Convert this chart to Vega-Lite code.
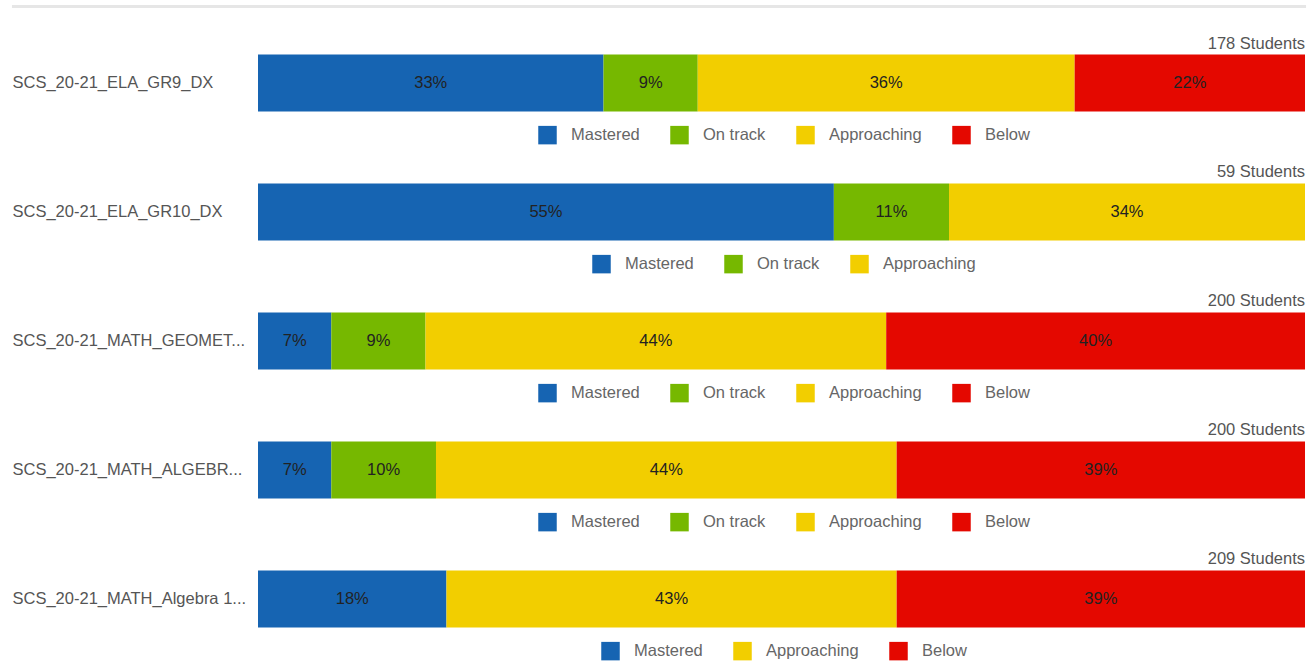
{
  "$schema": "https://vega.github.io/schema/vega-lite/v6.json",
  "padding": {"left": 10, "top": 4.5, "right": 2, "bottom": 0},
  "background": "white",
  "data": {"values": [
    {"test": "SCS_20-21_ELA_GR9_DX", "level": "Mastered", "o": 1, "pct": 0.33},
    {"test": "SCS_20-21_ELA_GR9_DX", "level": "On track", "o": 2, "pct": 0.09},
    {"test": "SCS_20-21_ELA_GR9_DX", "level": "Approaching", "o": 3, "pct": 0.36},
    {"test": "SCS_20-21_ELA_GR9_DX", "level": "Below", "o": 4, "pct": 0.22},
    {"test": "SCS_20-21_ELA_GR10_DX", "level": "Mastered", "o": 1, "pct": 0.55},
    {"test": "SCS_20-21_ELA_GR10_DX", "level": "On track", "o": 2, "pct": 0.11},
    {"test": "SCS_20-21_ELA_GR10_DX", "level": "Approaching", "o": 3, "pct": 0.34},
    {"test": "SCS_20-21_MATH_GEOMET...", "level": "Mastered", "o": 1, "pct": 0.07},
    {"test": "SCS_20-21_MATH_GEOMET...", "level": "On track", "o": 2, "pct": 0.09},
    {"test": "SCS_20-21_MATH_GEOMET...", "level": "Approaching", "o": 3, "pct": 0.44},
    {"test": "SCS_20-21_MATH_GEOMET...", "level": "Below", "o": 4, "pct": 0.40},
    {"test": "SCS_20-21_MATH_ALGEBR...", "level": "Mastered", "o": 1, "pct": 0.07},
    {"test": "SCS_20-21_MATH_ALGEBR...", "level": "On track", "o": 2, "pct": 0.10},
    {"test": "SCS_20-21_MATH_ALGEBR...", "level": "Approaching", "o": 3, "pct": 0.44},
    {"test": "SCS_20-21_MATH_ALGEBR...", "level": "Below", "o": 4, "pct": 0.39},
    {"test": "SCS_20-21_MATH_Algebra 1...", "level": "Mastered", "o": 1, "pct": 0.18},
    {"test": "SCS_20-21_MATH_Algebra 1...", "level": "Approaching", "o": 3, "pct": 0.43},
    {"test": "SCS_20-21_MATH_Algebra 1...", "level": "Below", "o": 4, "pct": 0.39}
  ]},
  "vconcat": [
    {
      "width": 1047, "height": 57,
      "transform": [
        {"filter": "datum.test === 'SCS_20-21_ELA_GR9_DX'"},
        {"stack": "pct", "groupby": ["test"], "sort": [{"field": "o", "order": "ascending"}], "as": ["x0", "x1"]},
        {"calculate": "(datum.x0 + datum.x1) / 2", "as": "xm"}
      ],
      "layer": [
        {
          "mark": {"type": "bar"},
          "encoding": {
            "y": {"field": "test", "type": "nominal", "scale": {"paddingInner": 0, "paddingOuter": 0}},
            "x": {"field": "x0", "type": "quantitative", "scale": {"domain": [0, 1], "nice": false}, "axis": null},
            "x2": {"field": "x1"},
            "color": {"field": "level", "type": "nominal",
              "scale": {"domain": ["Mastered", "On track", "Approaching", "Below"], "range": ["#1664B2", "#76B800", "#F2CE00", "#E40800"]},
              "legend": {"orient": "none", "legendX": 280, "legendY": 71}}
          }
        },
        {
          "mark": {"type": "text"},
          "encoding": {
            "y": {"field": "test", "type": "nominal"},
            "x": {"field": "xm", "type": "quantitative"},
            "text": {"field": "pct", "type": "quantitative", "format": ".0%"}
          }
        },
        {
          "data": {"values": [{"label": "178 Students"}]},
          "layer": [
            {
              "mark": {"type": "rule", "color": "#e6e6e6", "strokeWidth": 3},
              "encoding": {
                "x": {"datum": -0.235, "type": "quantitative"},
                "x2": {"datum": 1.001},
                "y": {"datum": 1.842, "type": "quantitative", "scale": {"domain": [0, 1], "nice": false, "zero": false}, "axis": null}
              }
            },
            {
              "mark": {"type": "text", "align": "right", "baseline": "alphabetic", "color": "#555"},
              "encoding": {
                "x": {"datum": 1, "type": "quantitative"},
                "y": {"datum": 1.105, "type": "quantitative"},
                "text": {"field": "label", "type": "nominal"}
              }
            }
          ]
        }
      ],
      "resolve": {"scale": {"y": "independent"}, "axis": {"y": "independent"}}
    },
    {
      "width": 1047, "height": 57,
      "title": {"text": "59 Students"},
      "transform": [
        {"filter": "datum.test === 'SCS_20-21_ELA_GR10_DX'"},
        {"stack": "pct", "groupby": ["test"], "sort": [{"field": "o", "order": "ascending"}], "as": ["x0", "x1"]},
        {"calculate": "(datum.x0 + datum.x1) / 2", "as": "xm"}
      ],
      "layer": [
        {
          "mark": {"type": "bar"},
          "encoding": {
            "y": {"field": "test", "type": "nominal", "scale": {"paddingInner": 0, "paddingOuter": 0}},
            "x": {"field": "x0", "type": "quantitative", "scale": {"domain": [0, 1], "nice": false}, "axis": null},
            "x2": {"field": "x1"},
            "color": {"field": "level", "type": "nominal",
              "scale": {"domain": ["Mastered", "On track", "Approaching"], "range": ["#1664B2", "#76B800", "#F2CE00"]},
              "legend": {"orient": "none", "legendX": 334, "legendY": 71}}
          }
        },
        {
          "mark": {"type": "text"},
          "encoding": {
            "y": {"field": "test", "type": "nominal"},
            "x": {"field": "xm", "type": "quantitative"},
            "text": {"field": "pct", "type": "quantitative", "format": ".0%"}
          }
        }
      ]
    },
    {
      "width": 1047, "height": 57,
      "title": {"text": "200 Students"},
      "transform": [
        {"filter": "datum.test === 'SCS_20-21_MATH_GEOMET...'"},
        {"stack": "pct", "groupby": ["test"], "sort": [{"field": "o", "order": "ascending"}], "as": ["x0", "x1"]},
        {"calculate": "(datum.x0 + datum.x1) / 2", "as": "xm"}
      ],
      "layer": [
        {
          "mark": {"type": "bar"},
          "encoding": {
            "y": {"field": "test", "type": "nominal", "scale": {"paddingInner": 0, "paddingOuter": 0}},
            "x": {"field": "x0", "type": "quantitative", "scale": {"domain": [0, 1], "nice": false}, "axis": null},
            "x2": {"field": "x1"},
            "color": {"field": "level", "type": "nominal",
              "scale": {"domain": ["Mastered", "On track", "Approaching", "Below"], "range": ["#1664B2", "#76B800", "#F2CE00", "#E40800"]},
              "legend": {"orient": "none", "legendX": 280, "legendY": 71}}
          }
        },
        {
          "mark": {"type": "text"},
          "encoding": {
            "y": {"field": "test", "type": "nominal"},
            "x": {"field": "xm", "type": "quantitative"},
            "text": {"field": "pct", "type": "quantitative", "format": ".0%"}
          }
        }
      ]
    },
    {
      "width": 1047, "height": 57,
      "title": {"text": "200 Students"},
      "transform": [
        {"filter": "datum.test === 'SCS_20-21_MATH_ALGEBR...'"},
        {"stack": "pct", "groupby": ["test"], "sort": [{"field": "o", "order": "ascending"}], "as": ["x0", "x1"]},
        {"calculate": "(datum.x0 + datum.x1) / 2", "as": "xm"}
      ],
      "layer": [
        {
          "mark": {"type": "bar"},
          "encoding": {
            "y": {"field": "test", "type": "nominal", "scale": {"paddingInner": 0, "paddingOuter": 0}},
            "x": {"field": "x0", "type": "quantitative", "scale": {"domain": [0, 1], "nice": false}, "axis": null},
            "x2": {"field": "x1"},
            "color": {"field": "level", "type": "nominal",
              "scale": {"domain": ["Mastered", "On track", "Approaching", "Below"], "range": ["#1664B2", "#76B800", "#F2CE00", "#E40800"]},
              "legend": {"orient": "none", "legendX": 280, "legendY": 71}}
          }
        },
        {
          "mark": {"type": "text"},
          "encoding": {
            "y": {"field": "test", "type": "nominal"},
            "x": {"field": "xm", "type": "quantitative"},
            "text": {"field": "pct", "type": "quantitative", "format": ".0%"}
          }
        }
      ]
    },
    {
      "width": 1047, "height": 57,
      "title": {"text": "209 Students"},
      "transform": [
        {"filter": "datum.test === 'SCS_20-21_MATH_Algebra 1...'"},
        {"stack": "pct", "groupby": ["test"], "sort": [{"field": "o", "order": "ascending"}], "as": ["x0", "x1"]},
        {"calculate": "(datum.x0 + datum.x1) / 2", "as": "xm"}
      ],
      "layer": [
        {
          "mark": {"type": "bar"},
          "encoding": {
            "y": {"field": "test", "type": "nominal", "scale": {"paddingInner": 0, "paddingOuter": 0}},
            "x": {"field": "x0", "type": "quantitative", "scale": {"domain": [0, 1], "nice": false}, "axis": null},
            "x2": {"field": "x1"},
            "color": {"field": "level", "type": "nominal",
              "scale": {"domain": ["Mastered", "Approaching", "Below"], "range": ["#1664B2", "#F2CE00", "#E40800"]},
              "legend": {"orient": "none", "legendX": 343, "legendY": 71}}
          }
        },
        {
          "mark": {"type": "text"},
          "encoding": {
            "y": {"field": "test", "type": "nominal"},
            "x": {"field": "xm", "type": "quantitative"},
            "text": {"field": "pct", "type": "quantitative", "format": ".0%"}
          }
        }
      ]
    }
  ],
  "spacing": 72,
  "bounds": "flush",
  "resolve": {"scale": {"color": "independent"}, "legend": {"color": "independent"}},
  "config": {
    "font": "Liberation Sans",
    "view": {"stroke": null},
    "bar": {"cornerRadius": 0},
    "text": {"fontSize": 16.5, "color": "#222", "align": "center", "baseline": "middle"},
    "title": {"anchor": "end", "frame": "group", "orient": "top", "offset": 3, "baseline": "alphabetic", "fontSize": 16.5, "fontWeight": "normal", "color": "#555"},
    "axisY": {"title": null, "domain": false, "ticks": false, "tickSize": 0, "labelAlign": "left", "labelPadding": 246, "labelFontSize": 16.5, "labelColor": "#555", "labelLimit": 320},
    "legend": {"title": null, "direction": "horizontal", "symbolType": "square", "symbolSize": 342, "symbolStrokeWidth": 0, "labelFontSize": 16.5, "labelColor": "#666", "labelOffset": 14, "columnPadding": 30, "padding": 0}
  }
}
